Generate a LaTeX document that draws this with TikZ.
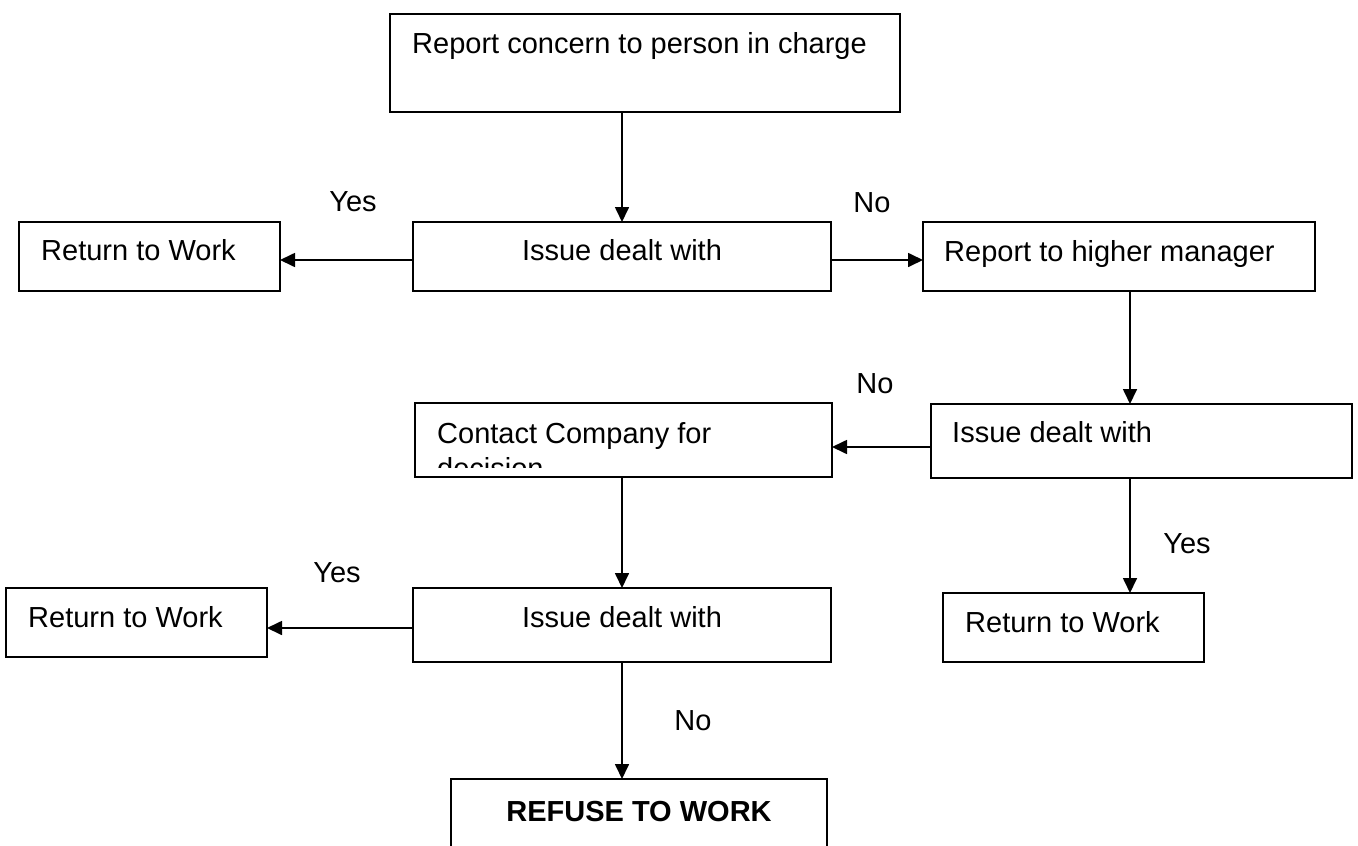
\documentclass[tikz,border=0pt]{standalone}
\usepackage{fontspec}
\setmainfont{Liberation Sans}
\usetikzlibrary{arrows.meta}
\begin{document}
\begin{tikzpicture}[x=1pt,y=-1pt,
  box/.style={draw=black,line width=2pt,rectangle,inner sep=0pt,outer sep=0pt,fill=white},
  txt/.style={inner sep=0pt,font=\fontsize{29}{35}\selectfont},
  arr/.style={line width=1.7pt,-{Triangle[length=15pt,width=14pt]}}]
\useasboundingbox (0,0) rectangle (1358,846);
\clip (0,0) rectangle (1358,846);
\fill[white] (0,0) rectangle (1358,846);
% boxes
\node[box,minimum width=510pt,minimum height=98pt] (top) at (645,63) {};
\node[box,minimum width=418pt,minimum height=69pt] (iss1) at (622,256.5) {};
\node[box,minimum width=261pt,minimum height=69pt] (ret1) at (149.5,256.5) {};
\node[box,minimum width=392pt,minimum height=69pt] (rep) at (1119,256.5) {};
\node[box,minimum width=421pt,minimum height=74pt] (iss2) at (1141.5,441) {};
\node[box,minimum width=417pt,minimum height=74pt] (con) at (623.5,440) {};
\node[box,minimum width=418pt,minimum height=74pt] (iss3) at (622,625) {};
\node[box,minimum width=261pt,minimum height=69pt] (ret2) at (136.5,622.5) {};
\node[box,minimum width=261pt,minimum height=69pt] (ret3) at (1073.5,627.5) {};
\node[box,minimum width=376pt,minimum height=100pt] (ref) at (639,829) {};
% texts
\node[txt,anchor=base west] (ttop) at (412,53) {Report concern to person in charge};
\node[txt,anchor=base] (tiss1) at (622,260.5) {Issue dealt with};
\node[txt,anchor=base west] (tret1) at (41,260) {Return to Work};
\node[txt,anchor=base west] (trep) at (944,261) {Report to higher manager};
\node[txt,anchor=base west] (tiss2) at (952,442) {Issue dealt with};
\begin{scope}
\clip (415,403) rectangle (832,467);
\node[txt,anchor=base west] (tcon) at (437,443) {Contact Company for};
\node[txt,anchor=base west] (tcon2) at (437,478) {decision};
\end{scope}
\node[txt,anchor=base] (tiss3) at (622,627) {Issue dealt with};
\node[txt,anchor=base west] (tret2) at (28,627) {Return to Work};
\node[txt,anchor=base west] (tret3) at (965,632) {Return to Work};
\node[txt,anchor=base,font=\fontsize{29}{35}\selectfont\bfseries] (tref) at (639,821) {REFUSE TO WORK};
% labels
\node[txt,anchor=base] (y1) at (353,211) {Yes};
\node[txt,anchor=base] (n1) at (872,212) {No};
\node[txt,anchor=base] (n2) at (875,393) {No};
\node[txt,anchor=base] (y2) at (1187,553) {Yes};
\node[txt,anchor=base] (y3) at (337,582) {Yes};
\node[txt,anchor=base] (n3) at (693,730) {No};
% connectors
\coordinate (rx) at (1130,0);
\draw[arr] (top.south -| iss1.north) -- (iss1.north);
\draw[arr] ([yshift=-3.5pt]iss1.west) -- ([yshift=-3.5pt]iss1.west -| ret1.east);
\draw[arr] ([yshift=-3.5pt]iss1.east) -- ([yshift=-3.5pt]iss1.east -| rep.west);
\draw[arr] (rep.south -| rx) -- (iss2.north -| rx);
\draw[arr] ([yshift=-6pt]iss2.west) -- ([yshift=-6pt]iss2.west -| con.east);
\draw[arr] (con.south -| iss3.north) -- (iss3.north);
\draw[arr] ([yshift=-3pt]iss3.west) -- ([yshift=-3pt]iss3.west -| ret2.east);
\draw[arr] (iss2.south -| rx) -- (ret3.north -| rx);
\draw[arr] (iss3.south) -- (iss3.south |- ref.north);
\end{tikzpicture}
\end{document}
